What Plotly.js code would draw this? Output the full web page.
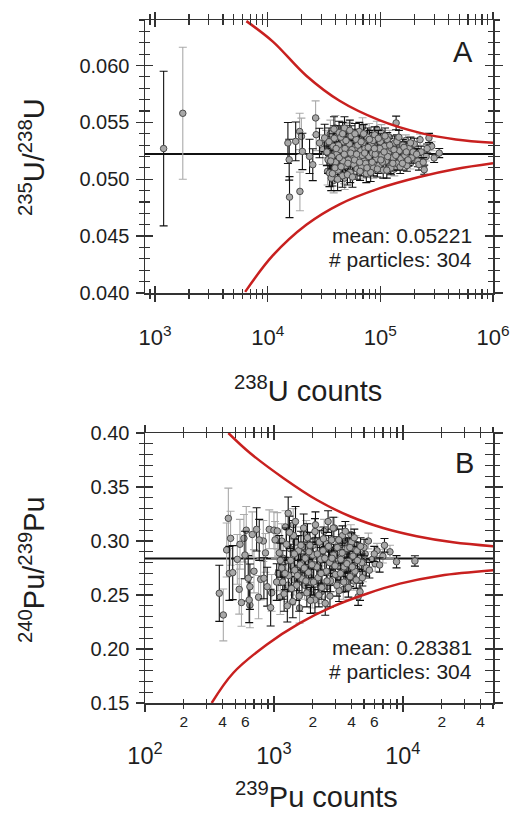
<!DOCTYPE html>
<html>
<head>
<meta charset="utf-8">
<script src="https://cdn.plot.ly/plotly-3.0.1.min.js"></script>
<style>html,body{margin:0;padding:0;background:#fff;}#chart{width:514px;height:814px;}</style>
</head>
<body>
<div id="chart"></div>
<script>
// ---------- Panel A: 235U/238U vs 238U counts ----------
const uBlackX = [1190,15100,15500,15600,17700,20300,23500,25100,28800,32000,34300,35300,36600,38000,39000,40000,41000,42000,43000,44000,45000,46000,47000,48000,49000,50000,52000,53000,54000,55000,57000,58000,60000,61000,62000,64000,65000,67000,68000,70000,72000,73000,75000,77000,79000,81000,83000,85000,87000,89000,92000,95000,97000,100000,103000,106000,109000,112000,115000,118000,122000,126000,130000,134000,138000,142000,147000,152000,158000,165000,172000,180000,190000,200000,215000,230000,245000,270000,300000,333000,37000,39500,42500,44500,46500,48500,51000,53500,56000,59000,63000,66000,69000,71000,74000,78000,82000,86000,90000,94000,99000,104000,110000,116000,124000,132000,140000,150000,162000,176000,195000,220000,
  33500,35000,36200,37500,38700,40500,41700,43200,44800,46200,47800,49500,51500,54500,56500,59500,61500,65500,67500,72500,76000,80000,84500,88500,96000,101000,108000,114000,121000,129000,137000,146000,157000,170000,185000,210000,240000,260000];
const uBlackY = [0.0527,0.05319,0.05172,0.04843,0.05333,0.05245,0.05201,0.05128,0.05319,0.05363,0.05172,0.05055,0.0501,0.0529,0.0536,0.0515,0.0522,0.0508,0.0541,0.0526,0.0519,0.0503,0.0533,0.0545,0.0512,0.0524,0.0517,0.0531,0.0506,0.0538,0.0521,0.0513,0.0528,0.0535,0.0509,0.0519,0.0542,0.0525,0.0511,0.0532,0.0516,0.0527,0.0505,0.0537,0.0520,0.0513,0.0530,0.0523,0.0510,0.0539,0.0518,0.0526,0.0512,0.0533,0.0521,0.0508,0.0529,0.0516,0.0535,0.0524,0.0511,0.0527,0.0519,0.0532,0.05495,0.0514,0.0525,0.0518,0.0530,0.0521,0.0512,0.0527,0.0519,0.0531,0.0516,0.0524,0.05084,0.05363,0.05187,0.0523,0.0520,0.0510,0.0530,0.0537,0.0516,0.0527,0.0504,0.0543,0.0526,0.0517,0.0530,0.0507,0.0521,0.0540,0.0514,0.0528,0.0506,0.0534,0.0522,0.0509,0.0527,0.0515,0.0538,0.0520,0.0510,0.0526,0.0533,0.0511,0.0528,0.0517,0.0524,0.0513,
  0.0524,0.0533,0.0516,0.0505,0.0544,0.0527,0.0500,0.0519,0.0511,0.0540,0.0522,0.0534,0.0514,0.0523,0.0502,0.0540,0.0522,0.0515,0.0533,0.0523,0.0510,0.0535,0.0515,0.0527,0.0536,0.0517,0.0524,0.0508,0.0530,0.0514,0.0521,0.0537,0.0514,0.0524,0.0532,0.0522,0.0515,0.0527];
const uBlackE = [0.0068,0.0018,0.0018,0.0018,0.0017,0.0016,0.0015,0.0014,0.0013,0.0012,0.0012,0.0012,0.0011,0.0011,0.0011,0.0011,0.0011,0.0010,0.0010,0.0010,0.0010,0.0010,0.0010,0.0010,0.0010,0.0010,0.0009,0.0009,0.0009,0.0009,0.0009,0.0009,0.0009,0.0009,0.0009,0.0008,0.0008,0.0008,0.0008,0.0008,0.0008,0.0008,0.0008,0.0008,0.0008,0.0008,0.0008,0.0007,0.0007,0.0007,0.0007,0.0007,0.0007,0.0007,0.0007,0.0007,0.0007,0.0007,0.0006,0.0006,0.0006,0.0006,0.0006,0.0006,0.0006,0.0006,0.0006,0.0006,0.0005,0.0005,0.0005,0.0005,0.0005,0.0005,0.0005,0.0005,0.0004,0.0004,0.0004,0.0004,0.0011,0.0011,0.0010,0.0010,0.0010,0.0010,0.0009,0.0009,0.0009,0.0009,0.0008,0.0008,0.0008,0.0008,0.0008,0.0008,0.0008,0.0007,0.0007,0.0007,0.0007,0.0007,0.0007,0.0006,0.0006,0.0006,0.0006,0.0006,0.0005,0.0005,0.0005,0.0005,
  0.0012,0.0012,0.0011,0.0011,0.0011,0.0011,0.0010,0.0010,0.0010,0.0010,0.0010,0.0010,0.0009,0.0009,0.0009,0.0009,0.0009,0.0008,0.0008,0.0008,0.0008,0.0008,0.0007,0.0007,0.0007,0.0007,0.0007,0.0007,0.0006,0.0006,0.0006,0.0006,0.0006,0.0005,0.0005,0.0005,0.0004,0.0004];
const uGrayX = [1760,19200,19300,19900,26600,26900,30800,33000,36000,38500,41500,43500,45500,47500,50500,52500,55500,58500,62500,66500,70500,74500,79500,84000,88000,93000,98000,105000,113000,120000,128000,136000,145000,155000,168000,185000,205000,225000,255000,285000,
  34000,39800,42800,48200,53000,57500,63500,69500,76500,86500,91000,102000,117000,133000,160000,195000];
const uGrayY = [0.0558,0.0542,0.04893,0.05377,0.05539,0.05392,0.0526,0.0531,0.0540,0.0499,0.0534,0.0514,0.0528,0.0506,0.0539,0.0520,0.0511,0.0534,0.0524,0.0536,0.0509,0.0529,0.0541,0.0517,0.0531,0.0544,0.0520,0.0530,0.0512,0.0537,0.0522,0.0515,0.0530,0.0524,0.0534,0.0514,0.0528,0.05348,0.0520,0.0529,
  0.0507,0.0545,0.0525,0.0501,0.0541,0.0528,0.0513,0.0546,0.0518,0.0508,0.0536,0.0541,0.0527,0.0509,0.0531,0.0520];
const uGrayE = [0.0058,0.0016,0.0017,0.0016,0.0015,0.0014,0.0013,0.0012,0.0012,0.0011,0.0011,0.0010,0.0010,0.0010,0.0010,0.0009,0.0009,0.0009,0.0008,0.0008,0.0008,0.0008,0.0008,0.0007,0.0007,0.0007,0.0007,0.0007,0.0007,0.0006,0.0006,0.0006,0.0006,0.0006,0.0005,0.0005,0.0005,0.0005,0.0004,0.0004,
  0.0012,0.0011,0.0010,0.0010,0.0009,0.0009,0.0008,0.0008,0.0008,0.0007,0.0007,0.0007,0.0006,0.0006,0.0005,0.0005];
const uUpperX = [6460,11100,22000,43400,97700,221000,468000,1000000];
const uUpperY = [0.0639,0.0621,0.0591,0.0569,0.0552,0.0541,0.0535,0.0532];
const uLowerX = [6300,11100,22000,43400,97700,221000,468000,1000000];
const uLowerY = [0.0401,0.0433,0.0460,0.0478,0.0492,0.0502,0.0509,0.0514];
const uMean = 0.05221;
const uMeanX = [813,1000000];
const uTickVals = [1e3,1e4,1e5,1e6];
const uTickText = ['10<sup>3</sup>','10<sup>4</sup>','10<sup>5</sup>','10<sup>6</sup>'];

// ---------- Panel B: 240Pu/239Pu vs 239Pu counts ----------
const pBlackX = [377,451,479,596,632,651,643,734,769,836,887,943,1050,1100,1150,1200,1250,1290,1300,1350,1400,1420,1450,1500,1550,1600,1650,1700,1750,1800,1850,1900,1950,2000,2080,2080,2150,2200,2250,2300,2350,2400,2500,2550,2630,2700,2750,2800,2900,3000,3100,3200,3300,3400,3500,3600,3700,3800,3900,4000,4100,4250,4400,4500,4650,4800,5000,5200,5500,6000,6600,7200,8930,12400,
  1120,1170,1220,1270,1320,1370,1440,1470,1520,1570,1620,1720,1770,1820,1870,1920,1970,2030,2100,2170,2230,2320,2420,2480,2580,2650,2720,2820,2880,2980,3080,3180,3280,3380,3480,3580,3680,3780,3880,4050,4200,4350,4450,4700,4850];
const pBlackY = [0.2516,0.270,0.2707,0.287,0.2655,0.2577,0.2454,0.3108,0.301,0.2655,0.2577,0.2383,0.262,0.289,0.275,0.251,0.297,0.3257,0.268,0.282,0.244,0.305,0.273,0.259,0.291,0.278,0.265,0.312,0.284,0.252,0.271,0.296,0.262,0.287,0.2454,0.3087,0.276,0.266,0.299,0.283,0.257,0.291,0.2423,0.272,0.318,0.280,0.263,0.301,0.287,0.269,0.294,0.254,0.283,0.305,0.276,0.262,0.293,0.281,0.267,0.299,0.286,0.272,0.291,0.2484,0.253,0.280,0.294,0.275,0.273,0.288,0.2778,0.296,0.2808,0.2815,
  0.282,0.262,0.270,0.240,0.308,0.256,0.288,0.318,0.268,0.249,0.296,0.275,0.263,0.303,0.290,0.245,0.278,0.262,0.315,0.288,0.250,0.270,0.302,0.284,0.263,0.295,0.249,0.284,0.312,0.277,0.259,0.301,0.270,0.289,0.262,0.309,0.279,0.257,0.294,0.276,0.303,0.264,0.282,0.295,0.266];
const pBlackE = [0.026,0.025,0.025,0.022,0.021,0.021,0.021,0.020,0.019,0.019,0.018,0.017,0.017,0.016,0.016,0.016,0.015,0.015,0.015,0.015,0.015,0.014,0.014,0.014,0.014,0.013,0.013,0.013,0.013,0.013,0.012,0.012,0.012,0.012,0.012,0.012,0.012,0.011,0.011,0.011,0.011,0.011,0.011,0.011,0.010,0.010,0.010,0.010,0.010,0.010,0.010,0.010,0.009,0.009,0.009,0.009,0.009,0.009,0.009,0.0085,0.0085,0.008,0.008,0.008,0.008,0.008,0.0076,0.0075,0.0072,0.007,0.0066,0.0063,0.0057,0.0048,
  0.016,0.016,0.015,0.015,0.015,0.015,0.014,0.014,0.014,0.014,0.013,0.013,0.013,0.013,0.012,0.012,0.012,0.012,0.012,0.011,0.011,0.011,0.011,0.011,0.010,0.010,0.010,0.010,0.010,0.010,0.010,0.010,0.009,0.009,0.009,0.009,0.009,0.009,0.009,0.0085,0.008,0.008,0.008,0.008,0.0077];
const pGrayX = [405,430,443,461,538,545,585,651,679,789,827,920,1000,1062,1020,1080,1120,1180,1230,1280,1330,1380,1430,1480,1530,1580,1630,1680,1730,1780,1830,1880,1930,1980,2050,2120,2180,2280,2380,2450,2600,2680,2850,2950,3050,3150,3350,3450,3650,3750,3950,4150,4300,4600,4900,5400,5800,6300,7000,7940,
  520,560,610,700,760,860,960,1150,1260,1410,1560,1710,1860,2010,2200,2330,2520,2780,3000,3250,3550,3850,4400,5100,6100];
const pGrayY = [0.2315,0.2917,0.321,0.3025,0.2553,0.297,0.3025,0.2407,0.306,0.2645,0.300,0.3108,0.310,0.3093,0.301,0.270,0.248,0.284,0.313,0.259,0.293,0.277,0.264,0.299,0.285,0.238,0.272,0.295,0.259,0.306,0.281,0.267,0.290,0.250,0.278,0.300,0.262,0.288,0.271,0.309,0.258,0.292,0.276,0.312,0.284,0.266,0.297,0.255,0.288,0.274,0.306,0.263,0.297,0.284,0.270,0.300,0.283,0.291,0.286,0.290,
  0.283,0.243,0.310,0.272,0.248,0.289,0.252,0.300,0.282,0.315,0.262,0.284,0.258,0.296,0.276,0.253,0.298,0.270,0.293,0.280,0.301,0.266,0.274,0.288,0.279];
const pGrayE = [0.024,0.025,0.028,0.025,0.023,0.023,0.022,0.021,0.021,0.019,0.019,0.018,0.017,0.017,0.017,0.016,0.016,0.016,0.015,0.015,0.015,0.015,0.014,0.014,0.014,0.014,0.013,0.013,0.013,0.013,0.013,0.012,0.012,0.012,0.012,0.012,0.011,0.011,0.011,0.011,0.010,0.010,0.010,0.010,0.010,0.010,0.009,0.009,0.009,0.009,0.009,0.0085,0.008,0.008,0.0077,0.0073,0.007,0.0068,0.0064,0.006,
  0.023,0.022,0.022,0.020,0.020,0.018,0.017,0.016,0.015,0.015,0.014,0.013,0.013,0.012,0.011,0.011,0.011,0.010,0.010,0.009,0.009,0.009,0.008,0.0075,0.007];
const pUpperX = [443,652,1180,2140,3880,7030,12800,24500,50100];
const pUpperY = [0.40,0.3815,0.3584,0.3382,0.3229,0.312,0.3044,0.2988,0.2951];
const pLowerX = [329,483,877,1585,2880,5250,9480,19400,50100];
const pLowerY = [0.15,0.1778,0.204,0.224,0.2395,0.2512,0.2605,0.2679,0.2729];
const pMean = 0.28381;
const pMeanX = [100,50000];
const pTickVals = [1e2,1e3,1e4];
const pTickText = ['10<sup>2</sup>','10<sup>3</sup>','10<sup>4</sup>'];
const pDigitVals = [200,400,600,2000,4000,6000,20000,40000];
const pDigitText = ['2','4','6','2','4','6','2','4'];

// ---------- texts ----------
const titles = {
  uY: '<sup>235</sup>U/<sup>238</sup>U', uX: '<sup>238</sup>U counts',
  pY: '<sup>240</sup>Pu/<sup>239</sup>Pu', pX: '<sup>239</sup>Pu counts'
};
const uStats = ['mean: 0.05221', '# particles: 304'];
const pStats = ['mean: 0.28381', '# particles: 304'];

// ---------- helpers ----------
function minorVals(firstExp, lastExp) {
  const v = [];
  for (let k = firstExp; k <= lastExp; k++) for (let d = 2; d <= 9; d++) v.push(d * Math.pow(10, k));
  return v;
}
const FONT = 'Liberation Sans, Arial, sans-serif';
const AX = '#333';
const TXT = '#1e1e1e';
const marker = {size: 6.5, color: '#a8a8a8', line: {color: '#4a4a4a', width: 1}};
const red = {color: '#c8201f', width: 2.5, shape: 'spline'};

function pts(x, y, e, xa, ya, barColor) {
  return {type: 'scatter', mode: 'markers', x: x, y: y, xaxis: xa, yaxis: ya,
    marker: marker, hoverinfo: 'skip',
    error_y: {type: 'data', array: e, visible: true, color: barColor, thickness: 1.1, width: 4}};
}
function line(x, y, xa, ya, style) {
  return {type: 'scatter', mode: 'lines', x: x, y: y, xaxis: xa, yaxis: ya, line: style, hoverinfo: 'skip'};
}

const traces = [
  line(uMeanX, [uMean, uMean], 'x', 'y', {color: '#111', width: 2}),
  pts(uGrayX, uGrayY, uGrayE, 'x', 'y', '#aaaaaa'),
  pts(uBlackX, uBlackY, uBlackE, 'x', 'y', '#111'),
  line(uUpperX, uUpperY, 'x3', 'y3', red),
  line(uLowerX, uLowerY, 'x3', 'y3', red),
  line(pMeanX, [pMean, pMean], 'x2', 'y2', {color: '#111', width: 2}),
  pts(pGrayX, pGrayY, pGrayE, 'x2', 'y2', '#aaaaaa'),
  pts(pBlackX, pBlackY, pBlackE, 'x2', 'y2', '#111'),
  line(pUpperX, pUpperY, 'x4', 'y4', red),
  line(pLowerX, pLowerY, 'x5', 'y4', red)
];

const xDom = [145/514, 493/514];
const uYDom = [(814-293)/814, (814-20)/814];
const pYDom = [(814-703)/814, (814-433)/814];

function xAxisBase(range, ticksSide, tv, minorTv) {
  return {type: 'log', range: range, showgrid: false, zeroline: false,
    showline: true, linecolor: AX, linewidth: 1.5, mirror: 'allticks',
    ticks: ticksSide, ticklen: 7, tickwidth: 1.3, tickcolor: AX,
    tickmode: 'array', tickvals: tv,
    minor: {tickmode: 'array', tickvals: minorTv, ticks: ticksSide, ticklen: 4.5, tickwidth: 1.2, tickcolor: AX, showgrid: false}};
}
function yAxisBase(range, ticksSide, dtick, mdtick, fmt) {
  return {range: range, showgrid: false, zeroline: false,
    showline: true, linecolor: AX, linewidth: 1.5, mirror: 'allticks',
    ticks: ticksSide, ticklen: 8, tickwidth: 1.3, tickcolor: AX,
    tickmode: 'linear', tick0: range[0], dtick: dtick, tickformat: fmt,
    minor: {tickmode: 'linear', tick0: range[0], dtick: mdtick, ticks: ticksSide, ticklen: 5, tickwidth: 1.2, tickcolor: AX, showgrid: false}};
}

const uXR = [2.91, 6], uYR = [0.040, 0.064];
const pXR = [2, 4.699], pYR = [0.15, 0.40];
const uMinor = minorVals(2, 5), pMinor = minorVals(2, 4);

function ann(text, x, y, size, xanchor, angle) {
  const a = {text: text, xref: 'paper', yref: 'paper', x: x / 514, y: (814 - y) / 814, showarrow: false,
    xanchor: xanchor, yanchor: 'middle', font: {size: size, family: FONT, color: TXT}};
  if (angle) a.textangle = angle;
  return a;
}

const layout = {
  width: 514, height: 814, margin: {l: 0, r: 0, t: 0, b: 0},
  paper_bgcolor: '#fff', plot_bgcolor: '#fff', showlegend: false,
  font: {family: FONT, color: TXT},
  xaxis: Object.assign(xAxisBase(uXR, 'outside', uTickVals, uMinor), {domain: xDom, anchor: 'y',
    ticktext: uTickText, tickfont: {size: 22, family: FONT, color: TXT}, ticklabelstandoff: 17}),
  xaxis3: Object.assign(xAxisBase(uXR, 'inside', uTickVals, uMinor), {overlaying: 'x', anchor: 'y', showticklabels: false}),
  yaxis: Object.assign(yAxisBase(uYR, 'outside', 0.005, 0.001, '.3f'), {domain: uYDom, anchor: 'x',
    tickfont: {size: 20, family: FONT, color: TXT}, ticklabelstandoff: 2}),
  yaxis3: Object.assign(yAxisBase(uYR, 'inside', 0.005, 0.001, '.3f'), {overlaying: 'y', anchor: 'x', showticklabels: false}),

  xaxis2: Object.assign(xAxisBase(pXR, 'outside', pTickVals, pMinor), {domain: xDom, anchor: 'y2',
    ticktext: pTickText, tickfont: {size: 23.5, family: FONT, color: TXT}, ticklabelstandoff: 24}),
  xaxis4: Object.assign(xAxisBase(pXR, 'inside', pTickVals, pMinor), {overlaying: 'x2', anchor: 'y2', showticklabels: false}),
  xaxis5: {type: 'log', range: pXR, overlaying: 'x2', anchor: 'y2', showgrid: false, zeroline: false, showline: false,
    ticks: '', tickmode: 'array', tickvals: pDigitVals, ticktext: pDigitText,
    tickfont: {size: 15.5, family: FONT, color: TXT}, ticklabelstandoff: 7},
  yaxis2: Object.assign(yAxisBase(pYR, 'outside', 0.05, 0.01, '.2f'), {domain: pYDom, anchor: 'x2',
    tickfont: {size: 20, family: FONT, color: TXT}, ticklabelstandoff: 2}),
  yaxis4: Object.assign(yAxisBase(pYR, 'inside', 0.05, 0.01, '.2f'), {overlaying: 'y2', anchor: 'x2', showticklabels: false}),

  annotations: [
    ann(titles.uY, 32, 157, 29, 'center', -90),
    ann(titles.uX, 308, 389, 29, 'center'),
    ann(titles.pY, 32, 570, 29, 'center', -90),
    ann(titles.pX, 316, 795, 29, 'center'),
    ann('A', 463, 52, 29, 'center'),
    ann('B', 464, 463, 29, 'center'),
    ann(uStats[0], 474, 236, 21, 'right'),
    ann(uStats[1], 474, 259, 21, 'right'),
    ann(pStats[0], 474, 647, 21, 'right'),
    ann(pStats[1], 474, 671, 21, 'right')
  ]
};

Plotly.newPlot('chart', traces, layout, {displayModeBar: false, staticPlot: true});
</script>
</body>
</html>
